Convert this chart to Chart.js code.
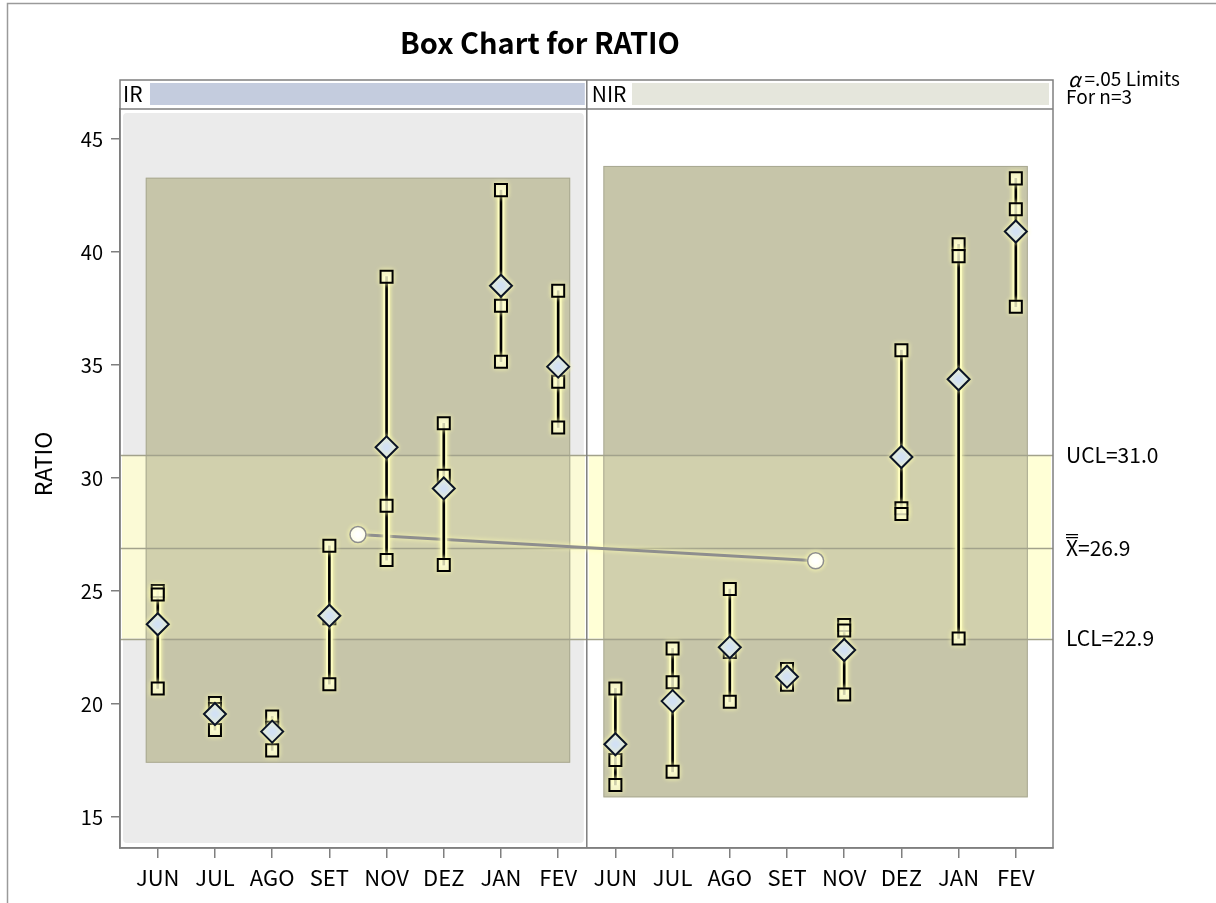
<!DOCTYPE html>
<html>
<head>
<meta charset="utf-8">
<title>Box Chart for RATIO</title>
<script src="https://cdn.jsdelivr.net/npm/chart.js@4.4.1/dist/chart.umd.min.js"></script>
<style>
    html, body { margin: 0; padding: 0; background: #fff; }
    #wrap { width: 1216px; height: 903px; position: relative; }
</style>
</head>
<body>
<div id="wrap"><canvas id="boxChart" width="1216" height="903"></canvas></div>
<script>
// data
const months = ['JUN', 'JUL', 'AGO', 'SET', 'NOV', 'DEZ', 'JAN', 'FEV'];
const phases = ['IR', 'NIR'];
const categories = months.concat(months);

// three observations per subgroup
const irValues = [
    [25.00, 24.85, 20.69],
    [20.05, 19.78, 18.85],
    [19.45, 18.95, 17.95],
    [27.00, 23.80, 20.88],
    [38.91, 28.77, 26.37],
    [32.42, 30.10, 26.15],
    [42.74, 37.62, 35.15],
    [38.29, 34.26, 32.24]
];
const nirValues = [
    [20.69, 17.52, 16.42],
    [22.46, 20.96, 17.00],
    [25.09, 22.30, 20.10],
    [21.55, 21.25, 20.85],
    [23.50, 23.25, 20.42],
    [35.66, 28.66, 28.41],
    [40.34, 39.82, 22.90],
    [43.26, 41.89, 37.58]
];
const irMeans = [23.53, 19.56, 18.78, 23.91, 31.36, 29.54, 38.51, 34.93];
const nirMeans = [18.22, 20.13, 22.51, 21.21, 22.39, 30.93, 34.37, 40.91];

// phase averages, drawn between SET and NOV of each phase
const phaseMeanX = [3.5, 11.5];
const phaseMeans = [27.50, 26.34];

const limitValues = [31.0, 26.9, 22.9];
const limitLabels = ['UCL=31.0', 'X=26.9', 'LCL=22.9'];
const yTicks = [15, 20, 25, 30, 35, 40, 45];

const allValues = irValues.concat(nirValues);
const allMeans = irMeans.concat(nirMeans);

const fontFamily = "'Noto Sans CJK JP', 'Noto Sans', sans-serif";

// build points for the library
const rangeData = allValues.map((v, i) => ({ x: i, y: [Math.min(...v), Math.max(...v)] }));
const obsData = [];
allValues.forEach((v, i) => {
    v.forEach(val => obsData.push({ x: i, y: val }));
});
const meanData = allMeans.map((m, i) => ({ x: i, y: m }));
const phaseLineData = phaseMeans.map((m, i) => ({ x: phaseMeanX[i], y: m }));

// light yellow halo round every mark
const glow = {
    id: 'glow',
    beforeDatasetDraw(chart) {
        const ctx = chart.ctx;
        ctx.save();
        ctx.shadowColor = 'rgba(255, 255, 175, 1)';
        ctx.shadowBlur = 5;
    },
    afterDatasetDraw(chart) {
        chart.ctx.restore();
    }
};

const decor = {
    id: 'decor',
    beforeDatasetsDraw(chart) {
        const { ctx, chartArea: a, scales: { x, y } } = chart;
        const divX = x.getPixelForValue(7.5);
        const headTop = 80;
        const bandTop = y.getPixelForValue(limitValues[0]);
        const bandBottom = y.getPixelForValue(limitValues[2]);

        ctx.save();

        // page frame
        ctx.strokeStyle = '#9a9a9a';
        ctx.lineWidth = 1.5;
        ctx.beginPath();
        ctx.moveTo(7.5, 903);
        ctx.lineTo(7.5, 3.5);
        ctx.lineTo(1216, 3.5);
        ctx.stroke();

        // phase backgrounds
        ctx.fillStyle = '#ebebeb';
        ctx.beginPath();
        ctx.roundRect(a.left + 3, a.top + 4, divX - a.left - 6, a.bottom - a.top - 9, 4);
        ctx.fill();

        // yellow band between limits
        ctx.fillStyle = '#fbfad6';
        ctx.fillRect(a.left + 2, bandTop, divX - a.left - 4, bandBottom - bandTop);
        ctx.fillStyle = '#ffffd6';
        ctx.fillRect(divX + 2, bandTop, a.right - divX - 4, bandBottom - bandTop);

        // range block of each phase
        const groups = [irValues, nirValues];
        groups.forEach((vals, p) => {
            const flat = [].concat(...vals);
            const x0 = x.getPixelForValue(p * 8 - 0.21);
            const x1 = x.getPixelForValue(p * 8 + 7.21);
            const y0 = y.getPixelForValue(Math.max(...flat) + 0.55);
            const y1 = y.getPixelForValue(Math.min(...flat) - 0.55);
            ctx.fillStyle = '#c6c5a9';
            ctx.fillRect(x0, y0, x1 - x0, y1 - y0);
            ctx.fillStyle = '#d1d0ad';
            const t = Math.max(y0, bandTop), b = Math.min(y1, bandBottom);
            ctx.fillRect(x0, t, x1 - x0, b - t);
            ctx.strokeStyle = 'rgba(150,150,130,0.6)';
            ctx.lineWidth = 1;
            ctx.strokeRect(x0 + 0.5, y0 + 0.5, x1 - x0 - 1, y1 - y0 - 1);
        });

        // control limit lines
        ctx.strokeStyle = '#a2a28c';
        ctx.lineWidth = 1.5;
        limitValues.forEach(v => {
            const py = Math.round(y.getPixelForValue(v)) + 0.5;
            ctx.beginPath();
            ctx.moveTo(a.left, py);
            ctx.lineTo(a.right, py);
            ctx.stroke();
        });

        // header strip
        ctx.fillStyle = '#c4ccde';
        ctx.fillRect(150, headTop + 3, divX - 152, a.top - headTop - 7);
        ctx.fillStyle = '#e5e6dc';
        ctx.fillRect(632, headTop + 3, a.right - 636, a.top - headTop - 7);
        ctx.fillStyle = '#000';
        ctx.font = '21px ' + fontFamily;
        ctx.textBaseline = 'middle';
        ctx.textAlign = 'left';
        ctx.fillText(phases[0], a.left + 3, (headTop + a.top) / 2);
        ctx.fillText(phases[1], divX + 5, (headTop + a.top) / 2);

        // frame and divider
        ctx.strokeStyle = '#7f7f7f';
        ctx.lineWidth = 1.5;
        ctx.strokeRect(a.left, headTop, a.right - a.left, a.bottom - headTop);
        ctx.beginPath();
        ctx.moveTo(a.left, a.top);
        ctx.lineTo(a.right, a.top);
        ctx.moveTo(divX, headTop);
        ctx.lineTo(divX, a.bottom);
        ctx.stroke();

        ctx.restore();
    },
    afterDraw(chart) {
        const { ctx, scales: { y } } = chart;
        ctx.save();
        ctx.fillStyle = '#000';
        ctx.textBaseline = 'middle';

        // title
        ctx.textAlign = 'center';
        ctx.font = 'bold 29px ' + fontFamily;
        ctx.fillText('Box Chart for RATIO', 540, 43);

        // axis title, centred on frame including the phase strip
        ctx.save();
        ctx.translate(43, 464);
        ctx.rotate(-Math.PI / 2);
        ctx.font = '23px ' + fontFamily;
        ctx.fillText('RATIO', 0, 0);
        ctx.restore();

        // limits note
        ctx.textAlign = 'left';
        ctx.font = 'italic 20px ' + fontFamily;
        ctx.fillText('\u03b1', 1068, 79);
        const aw = ctx.measureText('\u03b1').width;
        ctx.font = '19px ' + fontFamily;
        ctx.fillText('=.05 Limits', 1068 + aw + 4, 79);
        ctx.fillText('For n=3', 1066, 97);

        // limit labels
        ctx.font = '21px ' + fontFamily;
        limitLabels.forEach((lab, i) => {
            const py = y.getPixelForValue(limitValues[i]);
            if (i === 1) {
                const xw = ctx.measureText('X').width;
                ctx.fillText('X', 1066, py);
                ctx.fillText(lab.slice(1), 1066 + xw, py);
                ctx.strokeStyle = '#000';
                ctx.lineWidth = 1.3;
                ctx.beginPath();
                ctx.moveTo(1066, py - 10.5); ctx.lineTo(1066 + xw, py - 10.5);
                ctx.moveTo(1066, py - 13.5); ctx.lineTo(1066 + xw, py - 13.5);
                ctx.stroke();
            } else {
                ctx.fillText(lab, 1066, py);
            }
        });
        ctx.restore();
    }
};

const ctx = document.getElementById('boxChart');

new Chart(ctx, {
    data: {
        datasets: [
            {
                type: 'line',
                data: phaseLineData,
                borderColor: '#8e8e8e',
                borderWidth: 3,
                pointRadius: 8,
                pointBackgroundColor: '#ffffff',
                pointBorderColor: '#8e8e8e',
                pointBorderWidth: 1.5,
                order: 5
            },
            {
                // pale halo under the whiskers
                type: 'bar',
                data: rangeData,
                backgroundColor: 'rgba(255, 255, 205, 0.9)',
                borderWidth: 0,
                barThickness: 6,
                grouped: false,
                order: 4
            },
            {
                type: 'bar',
                data: rangeData,
                backgroundColor: '#000000',
                borderWidth: 0,
                barThickness: 2,
                grouped: false,
                order: 3
            },
            {
                type: 'scatter',
                data: obsData,
                pointStyle: 'rect',
                pointRadius: 8.5,
                borderColor: '#000000',
                borderWidth: 2,
                backgroundColor: 'rgba(255, 255, 238, 0.55)',
                order: 2
            },
            {
                type: 'scatter',
                data: meanData,
                pointStyle: 'rectRot',
                pointRadius: 11,
                borderColor: '#0b1426',
                borderWidth: 2,
                backgroundColor: '#d2e1f5',
                order: 1
            }
        ]
    },
    options: {
        responsive: false,
        animation: false,
        devicePixelRatio: 1,
        layout: {
            padding: { top: 109, right: 163, bottom: 0, left: 0 }
        },
        plugins: {
            legend: { display: false },
            tooltip: { enabled: false },
            title: { display: false }
        },
        scales: {
            x: {
                type: 'linear',
                offset: false,
                min: -0.66,
                max: 15.65,
                afterBuildTicks: function(scale) {
                    scale.ticks = categories.map((c, i) => ({ value: i }));
                },
                afterFit: function(scale) {
                    scale.height = 55;
                },
                ticks: {
                    autoSkip: false,
                    maxRotation: 0,
                    padding: 6,
                    color: '#000',
                    font: { family: fontFamily, size: 22 },
                    callback: function(value) {
                        return categories[value];
                    }
                },
                grid: { offset: false, drawOnChartArea: false, drawTicks: true, tickLength: 10, color: '#7f7f7f', lineWidth: 1.5 },
                border: { display: true, color: '#7f7f7f', width: 1.5 }
            },
            y: {
                type: 'linear',
                min: 13.63,
                max: 46.33,
                afterBuildTicks: function(scale) {
                    scale.ticks = yTicks.map(v => ({ value: v }));
                },
                afterFit: function(scale) {
                    scale.width = 120;
                },
                ticks: {
                    padding: 8,
                    color: '#000',
                    font: { family: fontFamily, size: 20 }
                },
                grid: { drawOnChartArea: false, drawTicks: true, tickLength: 9, color: '#7f7f7f', lineWidth: 1.5 },
                border: { display: true, color: '#7f7f7f', width: 1.5 }
            }
        }
    },
    plugins: [decor, glow]
});
</script>
</body>
</html>
